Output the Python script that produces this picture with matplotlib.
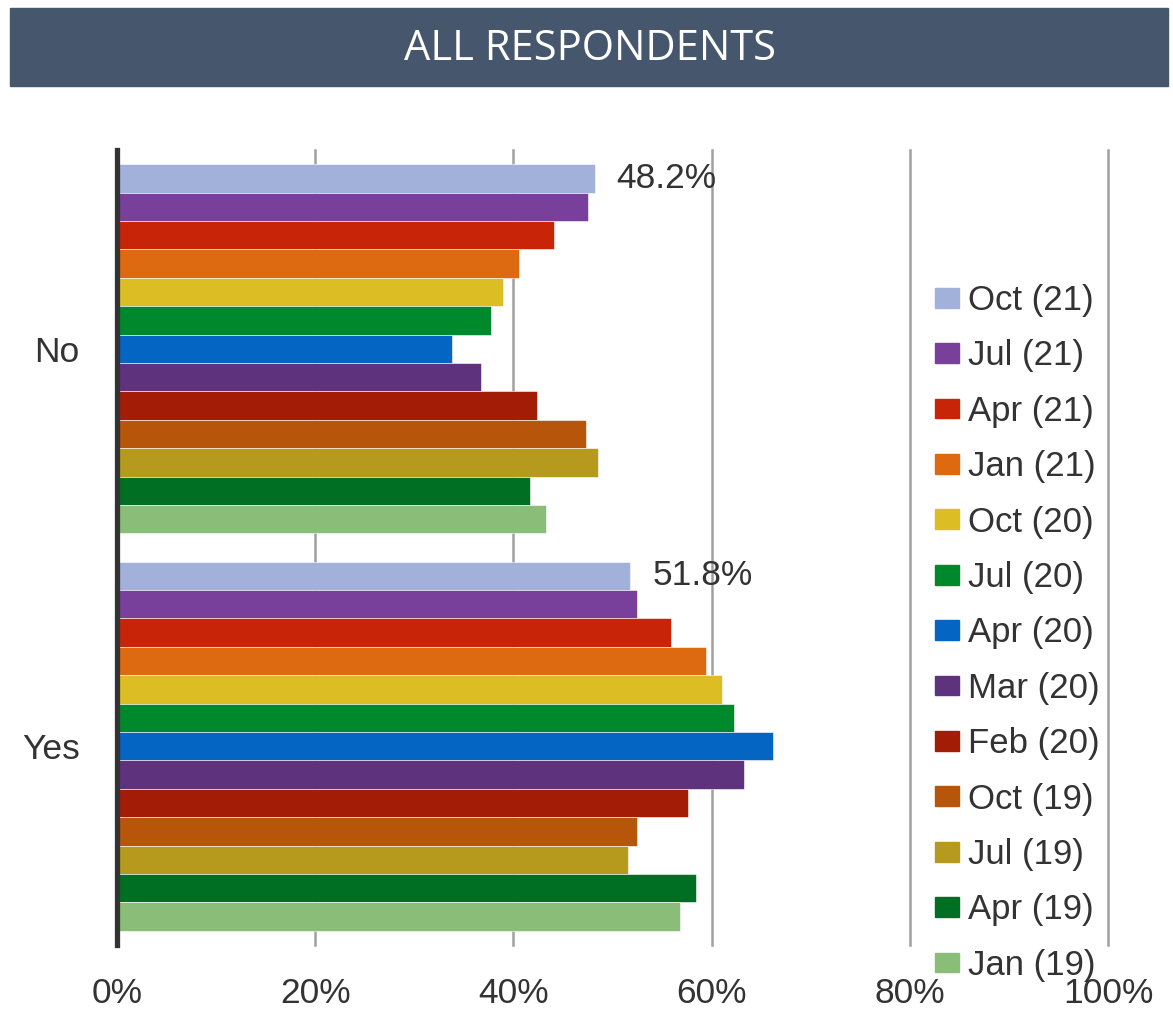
import matplotlib.pyplot as plt
from matplotlib.patches import Rectangle, Patch

# survey waves, newest first (same order as the legend)
waves = ['Oct (21)', 'Jul (21)', 'Apr (21)', 'Jan (21)', 'Oct (20)', 'Jul (20)',
         'Apr (20)', 'Mar (20)', 'Feb (20)', 'Oct (19)', 'Jul (19)', 'Apr (19)', 'Jan (19)']
colors = ['#A2B1D9', '#78409B', '#C82508', '#DD6A10', '#DCBE24', '#00882D',
          '#0465C2', '#5F327E', '#A31C06', '#B7550B', '#B59A1E', '#006F24', '#8ABD78']
answers = ['No', 'Yes']
no_vals = [48.2, 47.5, 44.1, 40.6, 39.0, 37.7, 33.8, 36.7, 42.4, 47.3, 48.5, 41.7, 43.3]
yes_vals = [51.8, 52.5, 55.9, 59.4, 61.0, 62.3, 66.2, 63.3, 57.6, 52.5, 51.6, 58.4, 56.8]
xticks = [0, 20, 40, 60, 80, 100]

txt = '#333333'
plt.rcParams['font.family'] = ['Liberation Sans', 'DejaVu Sans']

fig = plt.figure(figsize=(11.73, 10.13), dpi=100)

# title banner
W, H = 1173, 1013
fig.patches.append(Rectangle((10 / W, 1 - 86 / H), 1158 / W, 78 / H,
                             transform=fig.transFigure, color='#46566C', zorder=0))
fig.text(590 / W, 1 - 49 / H, 'ALL RESPONDENTS', color='white', fontsize=30,
         family='Open Sans', ha='center', va='center')

ax = fig.add_axes([117 / W, 68 / H, 991 / W, 795 / H])

n = len(waves)
h = 1.0 / (n + 1)
for j in range(n):
    vals = [no_vals[j], yes_vals[j]]
    ys = [i + (j - (n - 1) / 2) * h for i in range(len(answers))]
    ax.barh(ys, vals, height=h, color=colors[j], edgecolor='white',
            linewidth=0.4, label=waves[j], zorder=2)

# value labels on the newest wave
for i, v in enumerate([no_vals[0], yes_vals[0]]):
    y = i - (n - 1) / 2 * h
    ax.text(v + 2.2, y, f'{v:.1f}%', va='center', ha='left', fontsize=25.5, color=txt)

ax.set_xlim(0, 100)
ax.set_ylim(1.5, -0.5)
ax.set_xticks(xticks)
ax.set_xticklabels([f'{t}%' for t in xticks])
ax.set_yticks(range(len(answers)))
ax.set_yticklabels(answers)
ax.tick_params(axis='x', length=0, pad=23, labelsize=25.5, labelcolor=txt)
ax.tick_params(axis='y', length=0, pad=27, labelsize=25.5, labelcolor=txt)
ax.grid(axis='x', color='#A0A0A0', linewidth=1.8, zorder=1)
for gl in ax.get_xgridlines():
    gl.set_clip_on(False)
ax.set_axisbelow(True)
for s in ['top', 'right', 'bottom']:
    ax.spines[s].set_visible(False)
ax.spines['left'].set_color('#333333')
ax.spines['left'].set_linewidth(3.8)
ax.spines['left'].set_zorder(3)

handles = [Patch(color=c, label=w) for c, w in zip(colors, waves)]
fig.legend(handles=handles, loc='upper left', bbox_to_anchor=(935 / W, 1 - 284 / H),
           frameon=False, fontsize=25, labelcolor=txt, borderpad=0, borderaxespad=0,
           handlelength=0.68, handleheight=0.5, handletextpad=0.28, labelspacing=0.645)

fig.savefig('out.png', dpi=100, facecolor='white')
